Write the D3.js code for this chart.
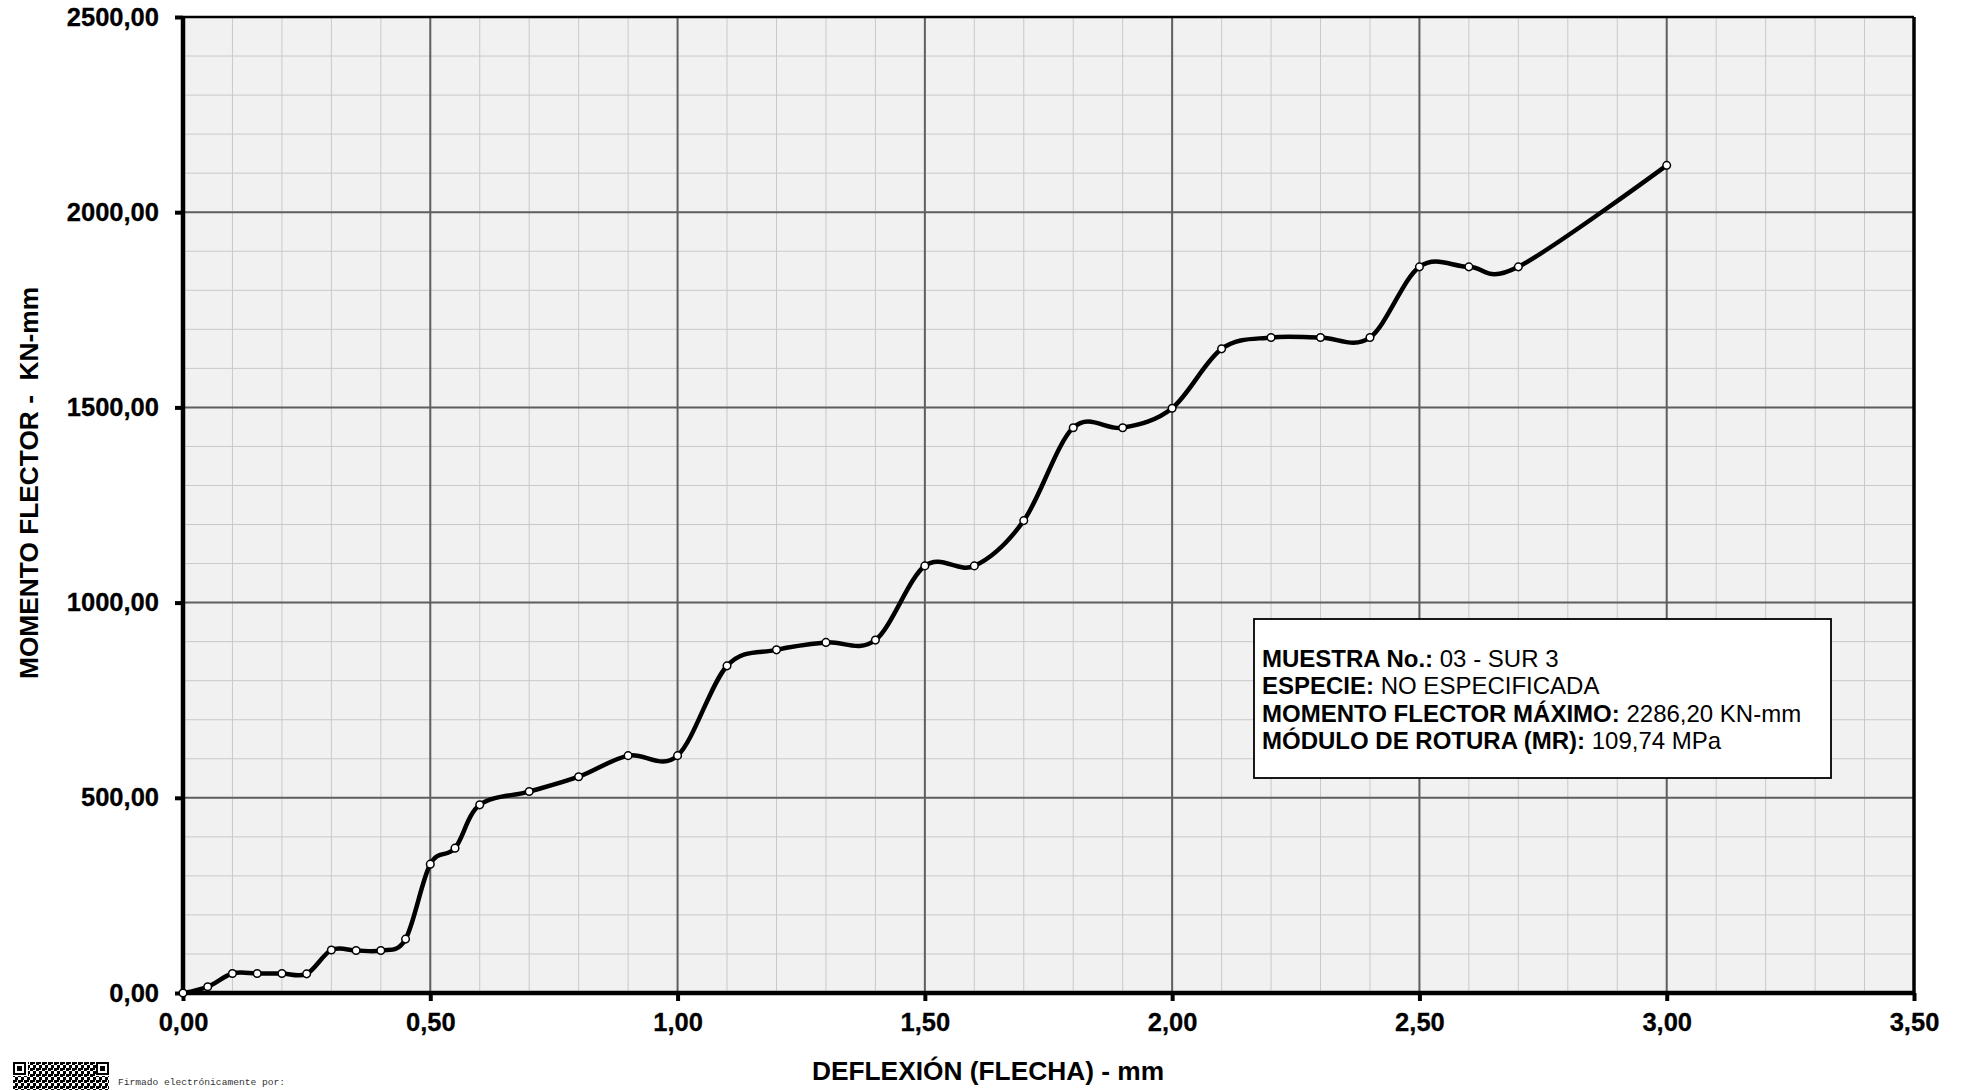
<!DOCTYPE html>
<html>
<head>
<meta charset="utf-8">
<script src="https://cdn.jsdelivr.net/npm/d3@7"></script>
<style>
  html, body { margin: 0; padding: 0; background: #ffffff; }
  svg { display: block; }
</style>
</head>
<body>
<svg id="chart" width="1967" height="1090"></svg>
<script>
// ---- data ----
const deflexion = [0, 0.05, 0.10, 0.15, 0.20, 0.25, 0.30, 0.35, 0.40, 0.45, 0.50, 0.55, 0.60, 0.70, 0.80, 0.90, 1.00,
                   1.10, 1.20, 1.30, 1.40, 1.50, 1.60, 1.70, 1.80, 1.90, 2.00, 2.10, 2.20, 2.30, 2.40, 2.50, 2.60, 2.70, 3.00];
const momento = [0, 16, 50, 50, 50, 49, 110, 109, 109, 138, 330, 371, 482, 516, 554, 608, 608,
                 838, 879, 898, 904, 1094, 1094, 1210, 1448, 1448, 1498, 1650, 1679, 1679, 1679, 1860, 1860, 1860, 2120];
const xTicks = [0, 0.5, 1.0, 1.5, 2.0, 2.5, 3.0, 3.5];
const yTicks = [0, 500, 1000, 1500, 2000, 2500];
const xMinor = d3.range(0, 3.5001, 0.1);
const yMinor = d3.range(0, 2500.1, 100);
const xTitle = "DEFLEXIÓN (FLECHA) - mm";
const yTitle = "MOMENTO FLECTOR -  KN-mm";
const infoLabels = ["MUESTRA No.:", "ESPECIE:", "MOMENTO FLECTOR MÁXIMO:", "MÓDULO DE ROTURA (MR):"];
const infoValues = [" 03 - SUR 3", " NO ESPECIFICADA", " 2286,20 KN-mm", " 109,74 MPa"];
const footerText = "Firmado electrónicamente por:";

// ---- layout ----
const SANS = "'Liberation Sans', Arial, sans-serif";
const MONO = "'Liberation Mono', 'DejaVu Sans Mono', monospace";
const L = 183, R = 1914, T = 17, B = 993;
const svg = d3.select("#chart");
const x = d3.scaleLinear().domain([0, 3.5]).range([L, R]);
const y = d3.scaleLinear().domain([0, 2500]).range([B, T]);
const fmt = v => d3.format(".2f")(v).replace(".", ",");

// plot background
svg.append("rect").attr("x", L).attr("y", T).attr("width", R - L).attr("height", B - T).attr("fill", "#f1f1f1");

// minor grid
const g = svg.append("g");
g.selectAll("line.vx").data(xMinor).join("line")
  .attr("x1", d => x(d)).attr("x2", d => x(d)).attr("y1", T).attr("y2", B)
  .attr("stroke", "#c9c9c9").attr("stroke-width", 1);
g.selectAll("line.hy").data(yMinor).join("line")
  .attr("x1", L).attr("x2", R).attr("y1", d => y(d)).attr("y2", d => y(d))
  .attr("stroke", "#c9c9c9").attr("stroke-width", 1);
// major grid
g.selectAll("line.mx").data(xTicks).join("line")
  .attr("x1", d => x(d)).attr("x2", d => x(d)).attr("y1", T).attr("y2", B)
  .attr("stroke", "#5f5f5f").attr("stroke-width", 2);
g.selectAll("line.my").data(yTicks).join("line")
  .attr("x1", L).attr("x2", R).attr("y1", d => y(d)).attr("y2", d => y(d))
  .attr("stroke", "#5f5f5f").attr("stroke-width", 2);

// borders
svg.append("line").attr("x1", L).attr("x2", R).attr("y1", T).attr("y2", T).attr("stroke", "#000").attr("stroke-width", 2.5);
svg.append("line").attr("x1", R).attr("x2", R).attr("y1", T).attr("y2", B).attr("stroke", "#000").attr("stroke-width", 3.5);

// axes
const xAxis = d3.axisBottom(x).tickValues(xTicks).tickFormat(fmt).tickSize(8).tickPadding(12);
const yAxis = d3.axisLeft(y).tickValues(yTicks).tickFormat(fmt).tickSize(8).tickPadding(16);
const gx = svg.append("g").attr("transform", `translate(0,${B})`).call(xAxis);
const gy = svg.append("g").attr("transform", `translate(${L},0)`).call(yAxis);
[gx, gy].forEach(a => {
  a.select(".domain").attr("stroke", "#000").attr("stroke-width", 4.5);
  a.selectAll(".tick line").attr("stroke", "#000").attr("stroke-width", 4);
  a.selectAll(".tick text").attr("fill", "#000").style("font-size", "25.5px").style("font-weight", "bold")
    .style("font-family", SANS).attr("stroke", "#000").attr("stroke-width", 0.3);
});
gx.select(".domain").attr("d", `M${L},0H${R}`);
gy.select(".domain").attr("d", `M0,${B}V${T}`);
gx.selectAll(".tick text").attr("dy", "0.71em");

// axis titles
svg.append("text").attr("x", 988).attr("y", 1080).attr("text-anchor", "middle")
  .style("font-family", SANS).style("font-size", "26.3px").style("font-weight", "bold").text(xTitle);
svg.append("text").attr("transform", "translate(38,483) rotate(-90)").attr("text-anchor", "middle")
  .style("font-family", SANS).style("font-size", "26.3px").style("font-weight", "bold")
  .style("white-space", "pre").text(yTitle);

// curve
const pts = deflexion.map((d, i) => [d, momento[i]]);
const line = d3.line().x(d => x(d[0])).y(d => y(d[1])).curve(d3.curveCardinal.tension(0));
svg.append("path").attr("d", line(pts)).attr("fill", "none").attr("stroke", "#000")
  .attr("stroke-width", 4.5).attr("stroke-linejoin", "round").attr("stroke-linecap", "round");
svg.selectAll("circle.pt").data(pts).join("circle")
  .attr("cx", d => x(d[0])).attr("cy", d => y(d[1])).attr("r", 3.8)
  .attr("fill", "#fff").attr("stroke", "#000").attr("stroke-width", 1.5);

// info box
svg.append("rect").attr("x", 1254).attr("y", 619).attr("width", 577).attr("height", 159)
  .attr("fill", "#fff").attr("stroke", "#000").attr("stroke-width", 1.8);
const info = svg.append("g");
infoLabels.forEach((lab, i) => {
  const t = info.append("text").attr("x", 1262).attr("y", 666.7 + i * 27.5)
    .style("font-family", SANS).style("font-size", "24px")
    .style("white-space", "pre").attr("fill", "#000");
  t.append("tspan").style("font-weight", "bold").text(lab);
  t.append("tspan").text(infoValues[i]);
});

// footer (signature stamp)
const defs = svg.append("defs");
const pat = defs.append("pattern").attr("id", "qrp").attr("width", 6).attr("height", 6).attr("patternUnits", "userSpaceOnUse");
pat.append("rect").attr("width", 6).attr("height", 6).attr("fill", "#fff");
pat.append("rect").attr("width", 3).attr("height", 3).attr("fill", "#000");
pat.append("rect").attr("x", 3).attr("y", 3).attr("width", 3).attr("height", 3).attr("fill", "#000");
pat.append("rect").attr("x", 3).attr("y", 0).attr("width", 2).attr("height", 2).attr("fill", "#000");
const qr = svg.append("g");
qr.append("rect").attr("x", 28).attr("y", 1062).attr("width", 68).attr("height", 28).attr("fill", "url(#qrp)");
qr.append("rect").attr("x", 13).attr("y", 1076).attr("width", 15).attr("height", 14).attr("fill", "url(#qrp)");
qr.append("rect").attr("x", 96).attr("y", 1076).attr("width", 13).attr("height", 14).attr("fill", "url(#qrp)");
[[13, 1062], [96, 1062]].forEach(([qx, qy]) => {
  qr.append("rect").attr("x", qx).attr("y", qy).attr("width", 13).attr("height", 13).attr("fill", "#000");
  qr.append("rect").attr("x", qx + 2).attr("y", qy + 2).attr("width", 9).attr("height", 9).attr("fill", "#fff");
  qr.append("rect").attr("x", qx + 4).attr("y", qy + 4).attr("width", 5).attr("height", 5).attr("fill", "#000");
});
svg.append("text").attr("x", 118).attr("y", 1085)
  .style("font-family", MONO).style("font-size", "9.6px").attr("fill", "#333").text(footerText);
</script>
</body>
</html>
